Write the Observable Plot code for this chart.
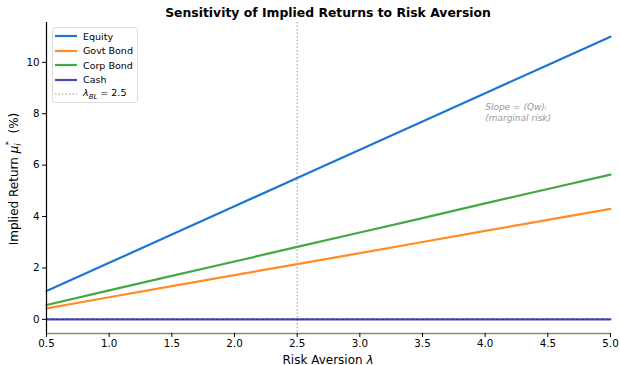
<!DOCTYPE html>
<html>
<head>
<meta charset="utf-8">
<script src="https://cdn.jsdelivr.net/npm/d3@7"></script>
<script src="https://cdn.jsdelivr.net/npm/@observablehq/plot@0.6"></script>
<style>
  html, body { margin: 0; padding: 0; background: #fff; }
  #wrap { position: relative; width: 620px; height: 365px; font-family: "DejaVu Sans", sans-serif; overflow: hidden; }
  #title { position: absolute; left: 46px; top: 5px; width: 564px; text-align: center; font-weight: bold; font-size: 12.4px; color: #000; }
  #chart { position: absolute; left: 0; top: 20px; }
  #legend { position: absolute; left: 52px; top: 27px; width: 84px; height: 74px; border: 1px solid #ddd; border-radius: 3px; background: rgba(255,255,255,0.85); font-size: 9.5px; }
  .item { position: absolute; left: 2px; height: 14px; display: flex; align-items: center; }
  .item svg { margin-right: 6px; }
</style>
</head>
<body>
<div id="wrap">
  <div id="title">Sensitivity of Implied Returns to Risk Aversion</div>
  <div id="chart"></div>
  <div id="legend"></div>
</div>
<script>
const lambdas = [0.5, 1.0, 1.5, 2.0, 2.5, 3.0, 3.5, 4.0, 4.5, 5.0];
const equity   = [1.10, 2.20, 3.30, 4.40, 5.50, 6.60, 7.70, 8.80, 9.90, 11.00];
const govtBond = [0.43, 0.86, 1.29, 1.72, 2.15, 2.58, 3.01, 3.44, 3.87, 4.30];
const corpBond = [0.56, 1.13, 1.69, 2.25, 2.82, 3.38, 3.94, 4.51, 5.07, 5.63];
const cash     = [0, 0, 0, 0, 0, 0, 0, 0, 0, 0];
const seriesNames = ["Equity", "Govt Bond", "Corp Bond", "Cash"];
const seriesColors = ["#1976D2", "#FF8C26", "#43A843", "#4649B8"];
const lambdaBL = 2.5;
const xTicks = [0.5, 1.0, 1.5, 2.0, 2.5, 3.0, 3.5, 4.0, 4.5, 5.0];
const yTicks = [0, 2, 4, 6, 8, 10];
const annotation = "Slope = (Qw)ᵢ\n(marginal risk)";

const seriesValues = [equity, govtBond, corpBond, cash];
const rows = [];
seriesNames.forEach((name, si) => {
  lambdas.forEach((l, i) => rows.push({series: name, lambda: l, value: seriesValues[si][i]}));
});

const yMin = -0.55, yMax = 11.55;

const plot = Plot.plot({
  width: 620,
  height: 345,
  marginTop: 2,
  marginBottom: 32,
  marginLeft: 46,
  marginRight: 10,
  style: {fontFamily: "DejaVu Sans, sans-serif", fontSize: "10px", color: "#000", background: "transparent"},
  x: {domain: [0.5, 5.0], label: null},
  y: {domain: [yMin, yMax], label: null},
  color: {domain: seriesNames, range: seriesColors},
  marks: [
    Plot.ruleX([lambdaBL], {stroke: "#999", strokeWidth: 1, strokeDasharray: "1.5,2"}),
    Plot.line(rows, {x: "lambda", y: "value", z: "series", stroke: "series", strokeWidth: 2.2}),
    Plot.ruleY([0], {stroke: "#222", strokeWidth: 0.6, strokeDasharray: "3,2", strokeOpacity: 0.7}),
    Plot.ruleX([0.5], {stroke: "#000", strokeWidth: 1.2}),
    Plot.ruleY([yMin], {stroke: "#888", strokeWidth: 1.6}),
    Plot.axisX({ticks: xTicks, tickFormat: d3.format(".1f"), tickSize: 4, tickPadding: 2, fontSize: 10.3, label: null}),
    Plot.axisY({ticks: yTicks, tickFormat: d => String(d), tickSize: 4, tickPadding: 3, fontSize: 10.3, label: null}),
    Plot.text([annotation], {x: 4.0, y: 8.47, text: d => d, textAnchor: "start", lineAnchor: "top", fontSize: 9, fontStyle: "italic", fill: "#999", lineHeight: 1.25})
  ]
});
document.getElementById("chart").appendChild(plot);

// Axis titles with sub/superscripts
const svg = d3.select(plot);
const xl = svg.append("text")
  .attr("x", 46 + (620 - 56) / 2).attr("y", 343.5)
  .attr("text-anchor", "middle").attr("font-size", 12).attr("fill", "#000");
xl.append("tspan").text("Risk Aversion ");
xl.append("tspan").attr("font-style", "italic").text("λ");

const yl = svg.append("text")
  .attr("transform", `translate(18, ${159}) rotate(-90)`)
  .attr("text-anchor", "middle").attr("font-size", 12).attr("fill", "#000");
yl.append("tspan").text("Implied Return ");
yl.append("tspan").attr("font-style", "italic").text("μ");
yl.append("tspan").attr("font-style", "italic").attr("font-size", 8.5).attr("dy", 3).text("i");
yl.append("tspan").attr("font-size", 8.5).attr("dy", -9).attr("dx", -2).text("*");
yl.append("tspan").attr("dy", 6).text("  (%)");

// Legend
const legend = document.getElementById("legend");
seriesNames.forEach((name, i) => {
  const d = document.createElement("div");
  d.className = "item";
  d.style.top = (1 + i * 14.6) + "px";
  d.innerHTML = `<svg width="22" height="4"><line x1="0" y1="2" x2="22" y2="2" stroke="${seriesColors[i]}" stroke-width="2.2"/></svg><span>${name}</span>`;
  legend.appendChild(d);
});
const d = document.createElement("div");
d.className = "item";
d.style.top = (1 + 4 * 14.6) + "px";
d.innerHTML = `<svg width="22" height="4"><line x1="0" y1="2" x2="22" y2="2" stroke="#999" stroke-width="1" stroke-dasharray="1.5,2"/></svg><span><i>λ</i><sub style="font-size:7px"><i>BL</i></sub> = ${lambdaBL}</span>`;
legend.appendChild(d);
</script>
</body>
</html>
